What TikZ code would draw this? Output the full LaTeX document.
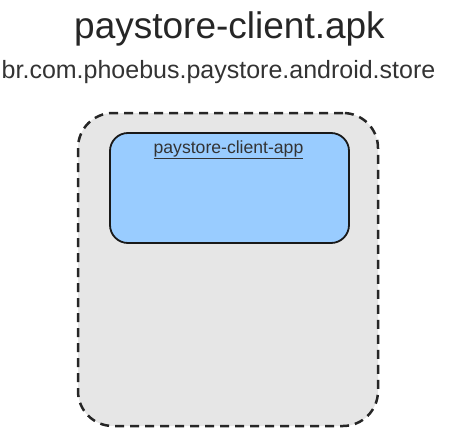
\documentclass[tikz,border=0pt]{standalone}
\usepackage{fontspec}
\setmainfont{Liberation Sans}
\usetikzlibrary{positioning}
\definecolor{outerfill}{HTML}{E6E6E6}
\definecolor{innerfill}{HTML}{99CCFF}
\definecolor{labelc}{HTML}{333333}
\tikzset{
  container/.style={draw=black!85, fill=outerfill, line width=2.5pt, dash pattern=on 9pt off 6pt, rounded corners=35pt, minimum width=300pt, minimum height=313pt, inner sep=0pt},
  appbox/.style={draw=black!90, fill=innerfill, line width=1.8pt, rounded corners=18pt, minimum width=239pt, minimum height=110pt, inner sep=0pt},
  titletext/.style={font=\fontsize{37}{40}\selectfont, text=black!85, anchor=base, inner sep=0pt},
  subtext/.style={font=\fontsize{25}{28}\selectfont, text=black!80, anchor=base, inner sep=0pt},
  applabel/.style={font=\fontsize{17.6}{19}\selectfont, text=labelc, anchor=base, inner sep=0pt}
}
\begin{document}
\begin{tikzpicture}[x=1pt,y=-1pt]
\useasboundingbox (0,0) rectangle (449,439);
\node[titletext] (title) at (229.5,38) {paystore-client.apk};
\node[subtext] (sub) at (218.5,78) {br.com.phoebus.paystore.android.store};
\node[container] (outer) at (228,269.5) {};
\node[appbox] (app) at (229.5,188) {};
\node[applabel] (lbl) at (228.5,153) {\underline{paystore-client-app}};
\end{tikzpicture}
\end{document}
